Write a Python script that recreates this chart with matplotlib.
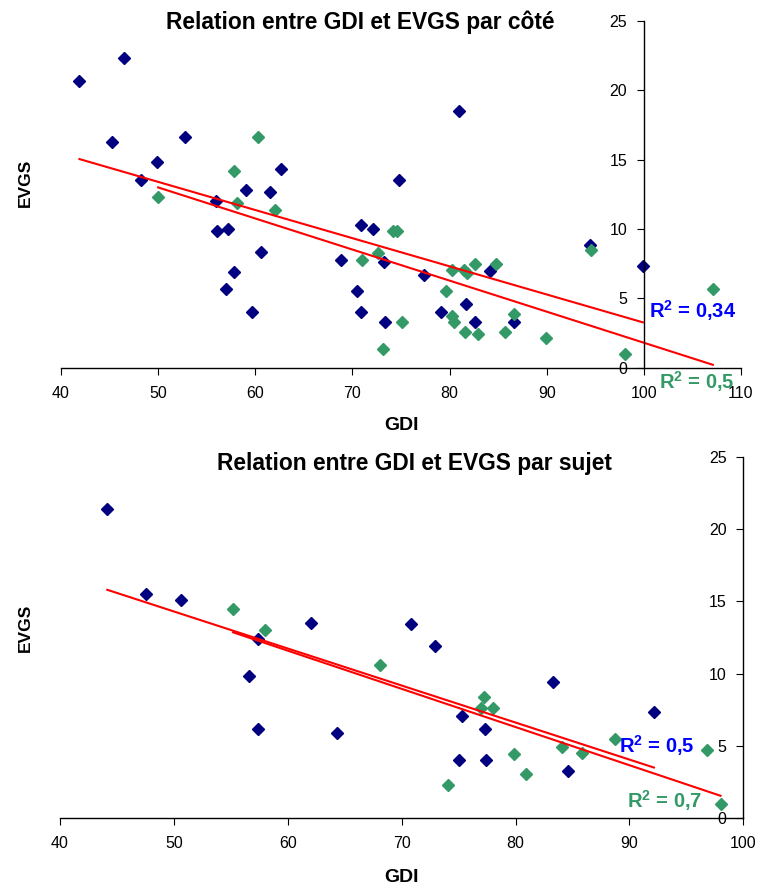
import numpy as np
import matplotlib
matplotlib.use("Agg")
import matplotlib.pyplot as plt

plt.rcParams['font.family'] = ['Liberation Sans', 'DejaVu Sans']
plt.rcParams['mathtext.fontset'] = 'custom'
plt.rcParams['mathtext.rm'] = 'Liberation Sans'
plt.rcParams['mathtext.bf'] = 'Liberation Sans:bold'

# --- données : relation par côté ---
cote_bleu_x = [41.9, 46.5, 45.2, 52.8, 49.9, 48.2, 62.6, 59.0, 61.5, 56.0, 74.8, 81.0,
               56.1, 57.2, 60.6, 57.8, 57.0, 59.7, 68.8, 70.9, 72.1, 73.3, 70.5, 70.9,
               73.4, 77.4, 79.1, 81.7, 82.6, 84.2, 86.6, 94.5, 99.9]
cote_bleu_y = [20.7, 22.3, 16.3, 16.6, 14.8, 13.5, 14.3, 12.8, 12.7, 12.0, 13.5, 18.5,
               9.85, 10.0, 8.35, 6.9, 5.7, 4.0, 7.8, 10.3, 10.0, 7.6, 5.55, 4.0,
               3.3, 6.7, 4.0, 4.6, 3.3, 7.0, 3.3, 8.85, 7.3]
cote_vert_x = [50.0, 57.8, 60.3, 58.1, 62.0, 72.6, 71.0, 73.1, 75.1, 74.2, 74.6, 80.3,
               81.5, 81.8, 82.6, 84.8, 79.6, 80.3, 80.5, 81.6, 82.9, 85.7, 86.6, 89.9,
               94.6, 98.1, 107.1]
cote_vert_y = [12.3, 14.2, 16.6, 11.85, 11.4, 8.25, 7.8, 1.35, 3.3, 9.85, 9.85, 7.05,
               7.05, 6.85, 7.5, 7.5, 5.55, 3.7, 3.3, 2.55, 2.4, 2.55, 3.9, 2.15,
               8.5, 1.0, 5.65]
# courbes de tendance (pente, ordonnée à l'origine) et R²
cote_tend_bleu = (-0.203, 23.55)
cote_tend_vert = (-0.224, 24.2)
cote_r2 = ["0,34", "0,5"]

# --- données : relation par sujet ---
sujet_bleu_x = [44.15, 47.55, 50.6, 62.0, 57.4, 70.8, 72.9, 56.6, 57.4, 64.3, 75.3, 77.3,
                75.05, 77.45, 83.3, 84.6, 92.15]
sujet_bleu_y = [21.4, 15.5, 15.1, 13.5, 12.4, 13.4, 11.9, 9.85, 6.2, 5.9, 7.1, 6.2,
                4.0, 4.0, 9.4, 3.3, 7.35]
sujet_vert_x = [55.2, 58.0, 68.1, 77.2, 77.0, 78.0, 74.1, 79.9, 80.95, 84.1, 85.8, 88.75,
                96.8, 98.0]
sujet_vert_y = [14.45, 13.0, 10.6, 8.4, 7.6, 7.65, 2.3, 4.45, 3.05, 4.95, 4.5, 5.45,
                4.7, 1.0]
sujet_tend_bleu = (-0.256, 27.1)
sujet_tend_vert = (-0.264, 27.43)
sujet_r2 = ["0,5", "0,7"]

NAVY = '#000080'
VERT = '#339966'
ROUGE = '#ff0000'
BLEU_TXT = '#0000ff'

W, H = 762, 889
fig = plt.figure(figsize=(W / 100, H / 100), dpi=100)


def px(x0, y0, x1, y1):
    # rectangle en pixels -> fraction de la figure
    return [x0 / W, 1 - y1 / H, (x1 - x0) / W, (y1 - y0) / H]


def r2(val):
    return r"R$^{\mathbf{2}}$ = " + val


def trace(ax, bx, by, vx, vy, tb, tv, xmax):
    ax.plot(bx, by, linestyle='none', marker='D', ms=6, color=NAVY)
    ax.plot(vx, vy, linestyle='none', marker='D', ms=6, color=VERT)
    for (a, b), xs in [(tb, bx), (tv, vx)]:
        xx = np.array([min(xs), max(xs)])
        ax.plot(xx, a * xx + b, color=ROUGE, lw=1.5)
    ax.set_xlim(40, xmax)
    ax.set_ylim(0, 25)
    ax.set_xticks(np.arange(40, xmax + 1, 10))
    ax.set_yticks(np.arange(0, 26, 5))
    for s in ['top', 'right']:
        ax.spines[s].set_visible(False)
    ax.spines['left'].set_position(('data', 100))
    ax.spines['bottom'].set_linewidth(1)
    ax.spines['left'].set_linewidth(1)
    ax.tick_params(axis='x', direction='out', length=5, pad=8, labelsize=11.5)
    ax.tick_params(axis='y', direction='out', length=5, pad=7, labelsize=11.5)
    ax.patch.set_alpha(0)


ax1 = fig.add_axes(px(61, 21, 741, 367.7))
trace(ax1, cote_bleu_x, cote_bleu_y, cote_vert_x, cote_vert_y,
      cote_tend_bleu, cote_tend_vert, 110)
ax1.text(100.5, 4.1, r2(cote_r2[0]), color=BLEU_TXT, fontsize=14.5, fontweight='bold', va='center')
ax1.text(101.6, -1.0, r2(cote_r2[1]), color=VERT, fontsize=14.5, fontweight='bold', va='center')

ax2 = fig.add_axes(px(60, 456.7, 743.3, 818.3))
trace(ax2, sujet_bleu_x, sujet_bleu_y, sujet_vert_x, sujet_vert_y,
      sujet_tend_bleu, sujet_tend_vert, 100)
ax2.text(89.1, 5.0, r2(sujet_r2[0]), color=BLEU_TXT, fontsize=14.5, fontweight='bold', va='center')
ax2.text(89.75, 1.2, r2(sujet_r2[1]), color=VERT, fontsize=14.5, fontweight='bold', va='center')

# titres et libellés d'axes
fig.text(360 / W, 1 - 29 / H, "Relation entre GDI et EVGS par côté",
         ha='center', va='baseline', fontsize=16.4, fontweight='bold')
fig.text(414 / W, 1 - 470 / H, "Relation entre GDI et EVGS par sujet",
         ha='center', va='baseline', fontsize=16.4, fontweight='bold')
fig.text(402 / W, 1 - 425 / H, "GDI", ha='center', va='center', fontsize=14, fontweight='bold')
fig.text(402 / W, 1 - 877 / H, "GDI", ha='center', va='center', fontsize=14, fontweight='bold')
fig.text(25 / W, 1 - 183 / H, "EVGS", ha='center', va='center', rotation=90,
         fontsize=12.5, fontweight='bold')
fig.text(25 / W, 1 - 628 / H, "EVGS", ha='center', va='center', rotation=90,
         fontsize=12.5, fontweight='bold')

fig.savefig('out.png', dpi=100)
